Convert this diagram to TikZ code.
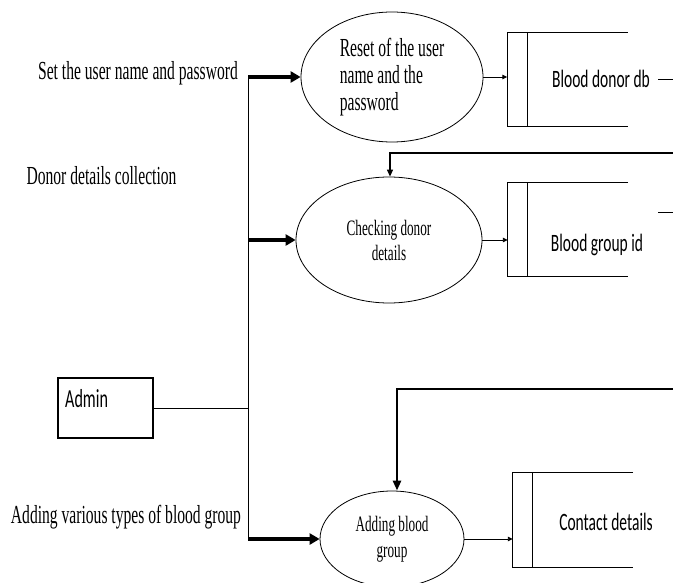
\documentclass[tikz,border=0pt]{standalone}
\usepackage{fontspec}
\setmainfont{Liberation Serif}[FakeStretch=0.6]
\newfontfamily\calfont{Carlito}[FakeStretch=0.62]
\usetikzlibrary{shapes.geometric,arrows.meta}
\begin{document}
\begin{tikzpicture}[x=1bp,y=-1bp,
  lbl/.style={anchor=base,inner sep=0pt,font=\fontsize{26bp}{28bp}\selectfont},
  proc/.style={draw,ellipse,line width=0.8bp,inner sep=0pt,align=center},
  store/.style={inner sep=0pt,minimum width=120bp,minimum height=93bp},
  storetxt/.style={anchor=base,inner sep=0pt,font=\calfont\fontsize{25bp}{28bp}\selectfont},
  storeline/.style={line width=1.2bp},
  thickflow/.style={line width=3.5bp,-{Triangle[length=10bp,width=11bp]}},
  thinflow/.style={line width=0.9bp,-{Triangle[length=5bp,width=4.5bp]}}]
  \useasboundingbox (0,0) rectangle (673,583);
  \node (SetLbl) at (138,80) [lbl] {Set the user name and password};
  \node (DonorLbl) at (101.5,185) [lbl] {Donor details collection};
  \node (AddLbl) at (126,523) [lbl] {Adding various types of blood group};
  \node (Admin) at (105.5,408) [draw,line width=1.2bp,minimum width=95bp,minimum height=60bp] {};
  \node (AdminTxt) at (65,407) [storetxt,anchor=base west,font=\calfont\fontsize{26bp}{28bp}\selectfont] {Admin};
  \node (Reset) at (392,77) [proc,minimum width=182bp,minimum height=130bp,align=left,font=\fontsize{26bp}{27bp}\selectfont] {Reset of the user\\name and the\\password};
  \node (Check) at (389,240) [proc,minimum width=186bp,minimum height=126bp,font=\fontsize{22bp}{25bp}\selectfont] {Checking donor\\details};
  \node (AddGroup) at (392,539) [proc,minimum width=144bp,minimum height=96bp,font=\fontsize{22bp}{26bp}\selectfont] {Adding blood\\group};
  \node (DonorDb) at (567.5,79.5) [store] {};
  \node (GroupId) at (568,229.5) [store] {};
  \node (Contact) at (573,520) [store,minimum height=94bp] {};
  \node (DonorDbTxt) at (601,88) [storetxt] {Blood donor db};
  \node (GroupIdTxt) at (597,251) [storetxt] {Blood group id};
  \node (ContactTxt) at (606,530) [storetxt] {Contact details};
  \draw [storeline] (DonorDb.north east) -| (DonorDb.south west) -- (DonorDb.south east);
  \draw [storeline] ([xshift=20bp]DonorDb.north west) -- ([xshift=20bp]DonorDb.south west);
  \draw [storeline] (GroupId.north east) -| (GroupId.south west) -- (GroupId.south east);
  \draw [storeline] ([xshift=20bp]GroupId.north west) -- ([xshift=20bp]GroupId.south west);
  \draw [storeline] (Contact.north east) -| (Contact.south west) -- (Contact.south east);
  \draw [storeline] ([xshift=20bp]Contact.north west) -- ([xshift=20bp]Contact.south west);
  \coordinate (TrunkTop) at (248,77);
  \coordinate (TrunkMid) at (248,240);
  \coordinate (TrunkAdmin) at (248,408);
  \coordinate (TrunkBot) at (248,539);
  \draw [line width=1bp] (TrunkTop) -- (TrunkBot);
  \draw [line width=1bp] (Admin.east) -- (TrunkAdmin);
  \draw [thickflow] (TrunkTop) -- (Reset.west);
  \draw [thickflow] (TrunkMid) -- (Check.west);
  \draw [thickflow] (TrunkBot) -- (AddGroup.west);
  \draw [thinflow] (Reset.east) -- (Reset.east -| DonorDb.west);
  \draw [thinflow] (Check.east) -- (Check.east -| GroupId.west);
  \draw [thinflow] (AddGroup.east) -- (AddGroup.east -| Contact.west);
  \coordinate (DbOutA) at (658,80);
  \coordinate (DbOutB) at (673,80);
  \coordinate (IdOutA) at (658,212);
  \coordinate (IdOutB) at (673,212);
  \draw [line width=1bp] (DbOutA) -- (DbOutB);
  \draw [line width=1bp] (IdOutA) -- (IdOutB);
  \coordinate (BackA) at (673,153);
  \coordinate (BackB) at (390,153);
  \coordinate (BackC) at (673,389);
  \coordinate (BackD) at (397,389);
  \draw [line width=1.2bp,-{Triangle[length=7bp,width=6bp]}] (BackA) -- (BackB) -- (BackB |- Check.north);
  \draw [line width=2.8bp,-{Triangle[length=10bp,width=8bp]}] (BackC) -- (BackD) -- (BackD |- AddGroup.north);
\end{tikzpicture}
\end{document}
